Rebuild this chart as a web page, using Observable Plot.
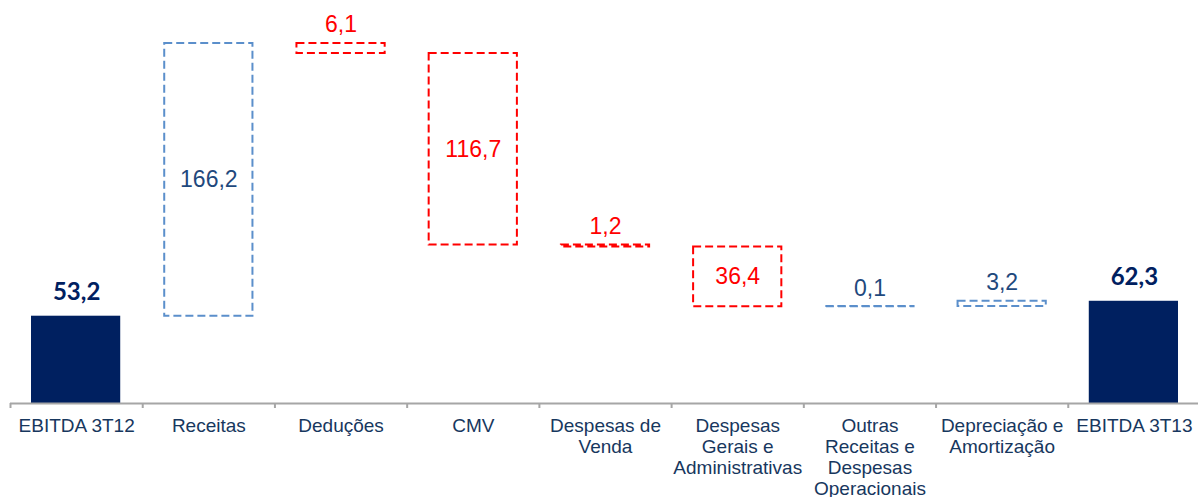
<!DOCTYPE html>
<html><head><meta charset="utf-8">
<script src="https://cdn.jsdelivr.net/npm/d3@7"></script>
<script src="https://cdn.jsdelivr.net/npm/@observablehq/plot@0.6"></script>
<style>body{margin:0;background:#fff;}</style>
</head><body><div id="chart"></div>
<script>
const categories = ["EBITDA 3T12", "Receitas", "Deduções", "CMV", "Despesas de\nVenda", "Despesas\nGerais e\nAdministrativas", "Outras\nReceitas e\nDespesas\nOperacionais", "Depreciação e\nAmortização", "EBITDA 3T13"];
const values = [53.2, 166.2, -6.1, -116.7, -1.2, -36.4, 0.1, 3.2, 62.3];
const kinds = ["total", "delta", "delta", "delta", "delta", "delta", "delta", "delta", "total"];

const fmt = v => d3.format(".1f")(Math.abs(v)).replace(".", ",");
let running = 0;
const rows = categories.map((label, i) => {
  const value = values[i], kind = kinds[i];
  let start, end;
  if (kind === "total") { start = 0; end = value; running = value; }
  else { start = running; end = running + value; running = end; }
  return {i, label, value, kind, start, end, top: Math.max(start, end), mid: (start + end) / 2};
});
const totals = rows.filter(d => d.kind === "total");
const deltas = rows.filter(d => d.kind === "delta");
const big = deltas.filter(d => Math.abs(d.value) > 20);
const small = deltas.filter(d => Math.abs(d.value) <= 20);
const RED = "#FF0000", BLUE = "#5B8FCB", BLUE_TXT = "#1F497D", NAVY = "#002060";
const deltaStroke = d => d.value < 0 ? RED : BLUE;
const deltaText = d => d.value < 0 ? RED : BLUE_TXT;
const bounds = d3.range(categories.length + 1);
const centers = d3.range(categories.length).map(i => i + 0.5);

const chart = Plot.plot({
  width: 1198,
  height: 497,
  marginLeft: 10,
  marginRight: -2,
  marginTop: 0,
  marginBottom: 94,
  style: {fontFamily: "'Liberation Sans', Arial, sans-serif", background: "#fff"},
  x: {type: "linear", domain: [0, categories.length], axis: null, label: null},
  y: {domain: [0, 245.6], axis: null, label: null},
  color: {type: "identity"},
  marks: [
    Plot.rect(totals, {x1: "i", x2: d => d.i + 1, y1: 0, y2: "value", fill: NAVY, insetLeft: 21, insetRight: 22}),
    Plot.rect(deltas, {x1: "i", x2: d => d.i + 1, y1: "start", y2: "end", fill: "none", stroke: deltaStroke, strokeWidth: 2, strokeDasharray: "8,4", insetLeft: 22, insetRight: 22}),
    Plot.ruleY([0], {stroke: "#A6A6A6", strokeWidth: 2}),
    Plot.axisX(bounds, {tickSize: 5, tickFormat: () => "", label: null, stroke: "#A6A6A6", strokeWidth: 2}),
    Plot.axisX(centers, {tickSize: 0, tickPadding: 14, label: null, tickFormat: c => categories[Math.floor(c)], fontSize: 19, lineHeight: 1.105, lineAnchor: "top", fill: "#17375E"}),
    Plot.text(totals, {x: d => d.i + 0.5, y: "value", text: d => fmt(d.value), lineAnchor: "bottom", dy: -16, fontSize: 24, fontWeight: "bold", fontFamily: "Lato, 'Open Sans', sans-serif", fill: NAVY}),
    Plot.text(big, {x: d => d.i + 0.5, y: "mid", text: d => fmt(d.value), fontSize: 23, fill: deltaText}),
    Plot.text(small, {x: d => d.i + 0.5, y: "top", text: d => fmt(d.value), lineAnchor: "bottom", dy: -11, fontSize: 23, fill: deltaText})
  ]
});
document.getElementById("chart").appendChild(chart);
</script>
</body></html>
